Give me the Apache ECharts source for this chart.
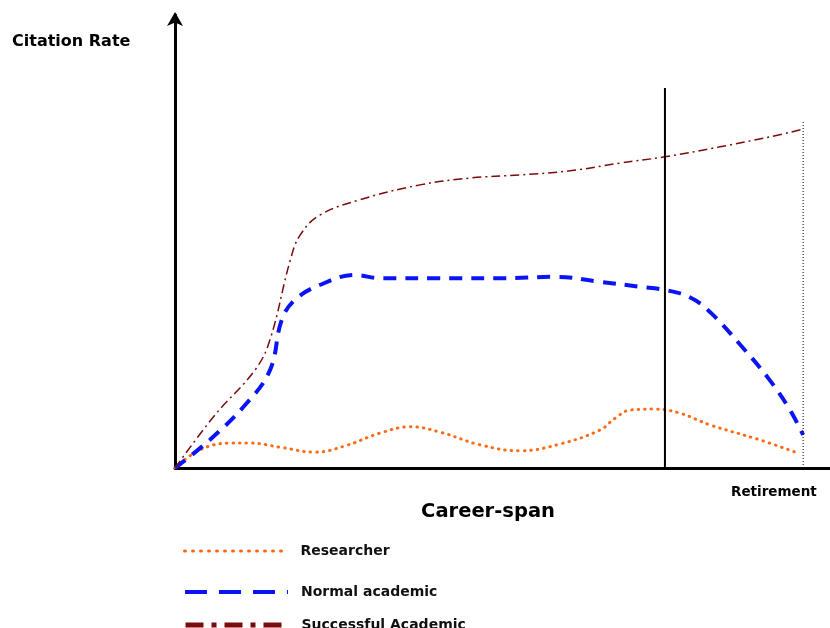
<!DOCTYPE html>
<html><head><meta charset="utf-8">
<script src="https://cdn.jsdelivr.net/npm/echarts@6/dist/echarts.min.js"></script>
<style>html,body{margin:0;padding:0;background:#fff}#c{width:830px;height:628px}</style>
</head><body><div id="c"></div>
<script>
const seriesNames = ['Researcher', 'Normal academic', 'Successful Academic'];
const researcher = [[0,0],[3.8,4.0],[8.4,5.5],[11.5,5.5],[16.0,4.6],[21.4,3.5],[26.0,4.9],[31.3,7.7],[35.9,9.1],[40.5,7.9],[46.6,5.1],[52.7,3.8],[58.8,5.3],[64.9,8.4],[67.2,11.0],[69.5,12.8],[73.3,13.0],[77.1,12.1],[81.7,9.5],[89.3,6.2],[94.7,3.5]];
const normal = [[0,0],[5.3,6.2],[10.7,13.9],[14.5,21.6],[16.3,32.7],[18.3,37.1],[22.1,40.4],[27.5,42.6],[31.3,41.9],[42.0,41.9],[49.6,41.9],[58.0,42.2],[64.9,41.1],[71.0,40.0],[74.8,39.3],[78.6,37.7],[81.7,34.4],[86.3,27.2],[90.8,19.4],[93.9,12.8],[95.9,7.3]];
const successful = [[0,0],[6.1,11.7],[12.2,21.6],[14.5,28.3],[17.6,45.9],[19.1,51.4],[22.1,55.8],[28.2,59.2],[37.4,62.5],[45.0,64.0],[52.7,64.7],[60.3,65.6],[67.9,67.3],[74.8,68.7],[83.2,70.9],[90.8,73.1],[95.9,74.8]];
const markerLine = [[74.8,0],[74.8,83.9]];
const retirementLine = [[95.9,0],[95.9,76.4]];
const xTitle = 'Career-span';
const yTitle = 'Citation Rate';
const retirementLabel = 'Retirement';

const font = '"DejaVu Sans", sans-serif';
const colors = ['#ff6a13', '#0a14f5', '#7a0c0c'];
const chart = echarts.init(document.getElementById('c'), null, {renderer:'canvas'});
function legendAt(name, top, lineStyle) {
  return {
    data: [name], left: 183, top: top, orient: 'vertical', padding: 0,
    itemWidth: 103, itemHeight: 12, itemGap: 0,
    itemStyle: {opacity: 0},
    lineStyle: lineStyle,
    textStyle: {fontFamily: font, fontWeight: 'bold', fontSize: 14, color: '#111', padding:[0,0,0,8]},
    selectedMode: false
  };
}
chart.setOption({
  animation: false,
  backgroundColor: '#fff',
  grid: {left: 175, right: 0, top: 15, bottom: 160, containLabel: false},
  xAxis: {
    type: 'value', min: 0, max: 100,
    axisLine: {show: true, lineStyle: {color: '#000', width: 3}},
    axisTick: {show: false}, axisLabel: {show: false}, splitLine: {show: false}
  },
  yAxis: {
    type: 'value', min: 0, max: 100,
    axisLine: {show: true, symbol: ['none','arrow'], symbolSize: [12, 14], symbolOffset: [0, 3], lineStyle: {color: '#000', width: 3}},
    axisTick: {show: false}, axisLabel: {show: false}, splitLine: {show: false}
  },
  legend: [
    legendAt(seriesNames[0], 544, {color: colors[0], width: 3, type: [1, 7], cap: 'round'}),
    legendAt(seriesNames[1], 585, {color: colors[1], width: 4, type: [22, 12]}),
    legendAt(seriesNames[2], 618, {color: colors[2], width: 5, type: [18, 8, 5, 8]})
  ],
  graphic: [
    {type: 'text', x: 12, y: 42, style: {text: yTitle, font: 'bold 16px ' + font, fill: '#000', textVerticalAlign: 'middle'}},
    {type: 'text', x: 731, y: 492, style: {text: retirementLabel, font: 'bold 13.5px ' + font, fill: '#000', textVerticalAlign: 'middle'}},
    {type: 'text', x: 488, y: 512, style: {text: xTitle, font: 'bold 19.5px ' + font, fill: '#000', textAlign: 'center', textVerticalAlign: 'middle'}}
  ],
  series: [
    {name: seriesNames[0], type: 'line', data: researcher, smooth: 0.4, showSymbol: false, symbol: 'none',
     lineStyle: {color: colors[0], width: 3, type: [0.5, 6], cap: 'round'}, itemStyle: {color: colors[0]}},
    {name: seriesNames[1], type: 'line', data: normal, smooth: 0.4, showSymbol: false, symbol: 'none',
     lineStyle: {color: colors[1], width: 4, type: [13, 9]}, itemStyle: {color: colors[1]}},
    {name: seriesNames[2], type: 'line', data: successful, smooth: 0.4, showSymbol: false, symbol: 'none',
     lineStyle: {color: colors[2], width: 1.5, type: [9, 4, 2, 4]}, itemStyle: {color: colors[2]}},
    {name: 'marker', type: 'line', data: markerLine, showSymbol: false, symbol: 'none', silent: true,
     lineStyle: {color: '#000', width: 2}},
    {name: 'retire', type: 'line', data: retirementLine, showSymbol: false, symbol: 'none', silent: true,
     lineStyle: {color: '#000', width: 1, type: [1, 2]}}
  ]
});
</script></body></html>
